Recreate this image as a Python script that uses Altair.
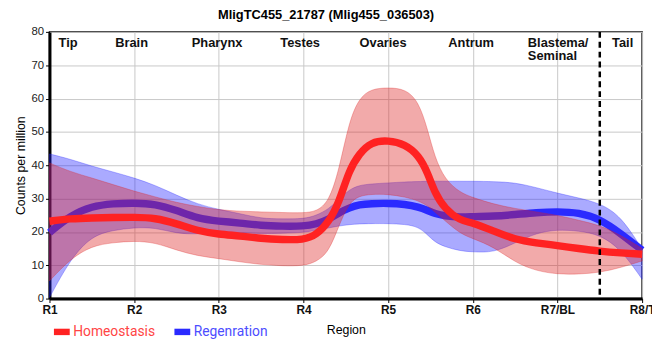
import altair as alt
import pandas as pd

title_text = "MligTC455_21787 (Mlig455_036503)"
tick_labels = ["R1", "R2", "R3", "R4", "R5", "R6", "R7/BL", "R8/T"]
region_names = ["Tip", "Brain", "Pharynx", "Testes", "Ovaries", "Antrum", "Blastema/\nSeminal", "Tail"]
region_x = [1.22, 1.97, 2.98, 3.96, 4.94, 5.98, 6.65, 7.77]
divider_x = [7.5]
conditions = ["Homeostasis", "Regenration"]

x_pos = [1, 1.25, 1.5, 1.75, 2, 2.25, 2.5, 2.75, 3, 3.25, 3.5, 3.75, 4, 4.15, 4.3, 4.42, 4.54,
         4.66, 4.8, 5, 5.2, 5.36, 5.47, 5.55, 5.67, 5.85, 6, 6.25, 6.5, 6.75, 7, 7.25, 7.5, 7.75, 8]

homeo_mean = [23.2, 24.0, 24.2, 24.3, 24.4, 24.2, 22.5, 20.3, 19.3, 18.8, 18.0, 17.7, 17.6, 19.0,
              23.0, 28.8, 38.6, 43.5, 47.0, 47.5, 46.3, 43.0, 37.6, 31.8, 26.9, 23.4, 22.8, 20.2,
              17.7, 16.7, 15.9, 15.0, 14.2, 13.7, 13.3]
homeo_hi = [40.7, 38.0, 36.2, 34.2, 32.2, 30.5, 28.8, 27.6, 26.6, 26.2, 26.0, 25.8, 25.7, 26.1,
            29.0, 38.6, 53.3, 60.2, 62.9, 63.3, 62.9, 59.2, 50.4, 42.5, 35.7, 31.8, 30.3, 28.3,
            27.0, 26.0, 25.0, 23.5, 22.0, 19.0, 15.0]
homeo_lo = [5.3, 12.0, 15.8, 16.8, 17.3, 16.8, 14.5, 12.8, 12.0, 11.0, 10.2, 9.8, 9.8, 11.0,
            14.0, 22.0, 28.8, 30.8, 31.3, 31.3, 30.5, 29.3, 27.8, 26.0, 23.4, 19.5, 18.0, 15.5,
            10.8, 8.3, 7.3, 7.3, 7.8, 9.3, 11.3]
regen_mean = [19.8, 25.0, 27.7, 28.5, 28.7, 28.4, 26.5, 24.0, 23.2, 22.7, 21.9, 21.7, 21.7, 22.3,
              23.8, 25.8, 27.2, 28.2, 28.5, 28.6, 28.3, 27.5, 26.4, 25.5, 24.8, 24.4, 24.6, 24.7,
              25.2, 25.8, 26.1, 25.8, 23.9, 19.5, 14.5]
regen_hi = [43.4, 41.8, 39.7, 38.0, 36.2, 34.0, 31.0, 28.3, 26.7, 25.5, 24.0, 23.9, 23.9, 24.9,
            26.9, 29.8, 32.7, 34.0, 34.4, 34.7, 35.0, 35.1, 35.2, 35.2, 35.2, 35.2, 35.2, 35.1,
            34.8, 33.3, 31.6, 30.2, 28.6, 24.8, 14.8]
regen_lo = [0.3, 12.0, 18.8, 20.5, 21.3, 21.3, 19.5, 19.3, 20.0, 19.8, 19.4, 19.6, 19.8, 20.5,
            21.2, 21.8, 22.2, 22.4, 22.5, 22.5, 22.3, 21.5, 19.0, 17.0, 15.5, 14.3, 14.0, 13.8,
            16.7, 19.7, 20.7, 20.3, 19.2, 14.8, 5.8]

RED = "#ff2222"
BLUE = "#2a2aff"
RED_FILL = "#de2020"
BLUE_FILL = "#2020ff"
INTERP = "basis"

band_h = pd.DataFrame({"x": x_pos, "hi": homeo_hi, "lo": homeo_lo})
band_r = pd.DataFrame({"x": x_pos, "hi": regen_hi, "lo": regen_lo})
lines = pd.concat([
    pd.DataFrame({"x": x_pos, "value": homeo_mean, "Condition": conditions[0]}),
    pd.DataFrame({"x": x_pos, "value": regen_mean, "Condition": conditions[1]}),
])
labels_df = pd.DataFrame({"x": region_x, "name": region_names})
div_df = pd.DataFrame({"x": divider_x})

label_expr = "[" + ",".join("'%s'" % t for t in tick_labels) + "][round(datum.value) - 1]"

xscale = alt.Scale(domain=[1, 8], nice=False, zero=False)
yscale = alt.Scale(domain=[0, 80], nice=False)

x_axis = alt.Axis(values=list(range(1, 9)), labelExpr=label_expr, title="Region",
                  labelFlush=False, labelOverlap=False, labelFont="Liberation Sans",
                  labelFontWeight="bold", labelFontSize=12, labelColor="#111",
                  labelPadding=2, tickSize=4, titleFont="Liberation Sans",
                  titleFontSize=12.5, titleFontWeight="normal", titlePadding=8,
                  titleColor="#000")
y_axis = alt.Axis(values=list(range(0, 81, 10)), title="Counts per million",
                  labelFont="Liberation Sans", labelFontSize=11.5, labelColor="#222",
                  labelPadding=2, tickSize=4, titleFont="Liberation Sans",
                  titleFontSize=12.5, titleFontWeight="normal", titlePadding=4,
                  titleColor="#000")

X = alt.X("x:Q", scale=xscale, axis=x_axis)

color_enc = alt.Color(
    "Condition:N",
    scale=alt.Scale(domain=conditions, range=[RED, BLUE]),
    legend=alt.Legend(
        title=None, orient="none", legendX=1, legendY=292, direction="horizontal",
        symbolType="stroke", symbolSize=256, symbolStrokeWidth=6.5,
        labelFont="Roboto", labelFontSize=14, labelOffset=0, columnPadding=6,
        labelColor=alt.ExprRef("datum.label == 'Homeostasis' ? '#ff4545' : '#4d4dff'"),
    ),
)

def band(df, fill):
    return alt.Chart(df).mark_area(
        interpolate=INTERP, fill=fill, fillOpacity=0.38,
        stroke=fill, strokeOpacity=0.3, strokeWidth=1,
    ).encode(
        x=X,
        y=alt.Y("hi:Q", scale=yscale, axis=y_axis),
        y2="lo:Q",
    )

def line(cond):
    return alt.Chart(lines).transform_filter(
        alt.datum.Condition == cond
    ).mark_line(interpolate=INTERP, strokeWidth=7.5).encode(
        x=X,
        y=alt.Y("value:Q", scale=yscale, axis=y_axis),
        color=color_enc,
    )

rule = alt.Chart(div_df).mark_rule(color="black", strokeWidth=2.5, strokeDash=[6, 4]).encode(x=X)

text_center = alt.Chart(labels_df).transform_filter(
    "indexof(datum.name, '/') < 0"
).mark_text(font="Liberation Sans", fontWeight="bold", fontSize=13, align="center",
            baseline="alphabetic", color="#111").encode(
    x=X, y=alt.Y(datum=75.6, scale=yscale, axis=y_axis), text="name:N")

text_left = alt.Chart(labels_df).transform_filter(
    "indexof(datum.name, '/') >= 0"
).mark_text(font="Liberation Sans", fontWeight="bold", fontSize=13, align="left",
            baseline="alphabetic", color="#111", lineBreak="\n", lineHeight=14).encode(
    x=X, y=alt.Y(datum=75.6, scale=yscale, axis=y_axis), text="name:N")

chart = alt.layer(
    band(band_r, BLUE_FILL),
    line(conditions[1]),
    band(band_h, RED_FILL),
    line(conditions[0]),
    rule,
    text_center,
    text_left,
).properties(
    width=600, height=270,
    title=alt.Title(title_text, font="Liberation Sans", fontSize=13, fontWeight="bold",
                    anchor="middle", dx=-20, offset=4, color="#000"),
    autosize=alt.AutoSizeParams(type="none"),
    padding={"left": 42, "top": 22, "right": 10, "bottom": 60},
).configure_view(
    stroke="black", strokeWidth=1.5
).configure_axis(
    domainColor="black", domainWidth=3, tickColor="black", tickWidth=1,
    gridColor="#c8c8c8", gridWidth=1,
)

chart.save("out.html", embed_options={"renderer": "svg", "actions": False})
